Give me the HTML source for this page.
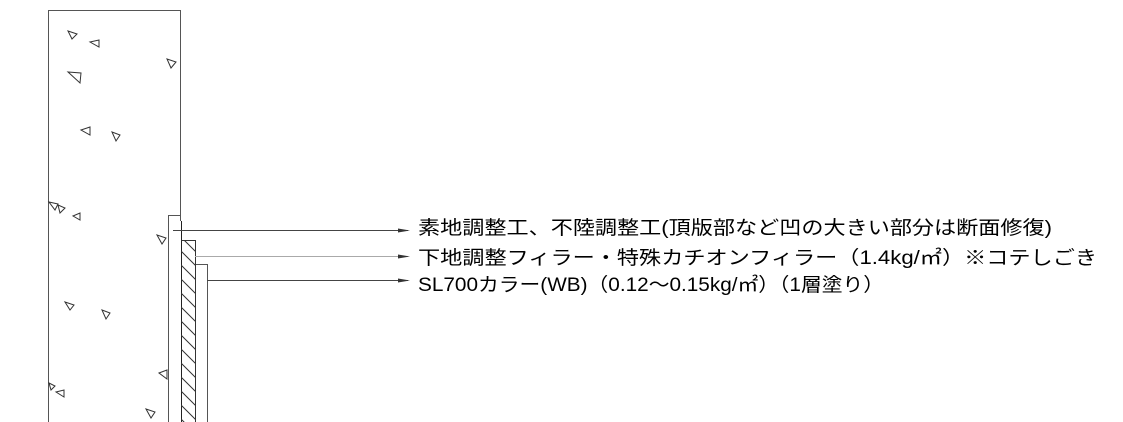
<!DOCTYPE html>
<html><head><meta charset="utf-8"><style>
html,body{margin:0;padding:0;background:#fff;}
svg{display:block;}
text{font-family:"Liberation Sans","Noto Sans CJK JP",sans-serif;font-size:19px;fill:#000;}
</style></head><body>
<svg width="1123" height="422" viewBox="0 0 1123 422" xmlns="http://www.w3.org/2000/svg">
<defs>
<pattern id="h" patternUnits="userSpaceOnUse" width="14" height="14">
<path d="M0,0 L14,14 M-7,7 L7,21 M7,-7 L21,7" stroke="#333" stroke-width="1"/>
</pattern>
<clipPath id="c"><rect x="181" y="240" width="14" height="182"/></clipPath>
</defs>
<g fill="none" stroke="#555" stroke-width="1">
<path d="M48.5,422 V10.5 H180.5 V221"/>
<path d="M168.5,422 V215.5 H181"/>
<path d="M195.5,264.5 H207.5 V422"/>
</g>
<line x1="181.5" y1="221" x2="181.5" y2="422" stroke="#222"/>
<rect x="181" y="240" width="14" height="182" fill="url(#h)" clip-path="url(#c)"/>
<path d="M181.5,240.5 H195.5 V422" fill="none" stroke="#333"/>
<line x1="173" y1="230.5" x2="408" y2="230.5" stroke="#444"/>
<line x1="195" y1="256.5" x2="408" y2="256.5" stroke="#aaa"/>
<line x1="207" y1="280.5" x2="408" y2="280.5" stroke="#444"/>
<path d="M398,228.5 L410,230.5 L398,232.5 Z" fill="#333"/>
<path d="M398,254.5 L410,256.5 L398,258.5 Z" fill="#333"/>
<path d="M398,278.5 L410,280.5 L398,282.5 Z" fill="#333"/>
<g fill="none" stroke="#333" stroke-width="1">
<path d="M68,31 L77,34 L72,39 Z"/>
<path d="M90,42 L99,40 L99,47 Z"/>
<path d="M167,59 L176,62 L171,68 Z"/>
<path d="M68,72 L81,73 L80,83 Z"/>
<path d="M81,130 L90,127 L90,135 Z"/>
<path d="M112,132 L120,135 L116,141 Z"/>
<path d="M49,202 L58,204 L55,210 Z"/>
<path d="M58,205 L65,208 L60,213 Z"/>
<path d="M73,216 L80,213 L80,220 Z"/>
<path d="M157,235 L166,238 L162,244 Z"/>
<path d="M65,302 L74,305 L70,310 Z"/>
<path d="M102,310 L110,313 L106,319 Z"/>
<path d="M159,373 L167,370 L167,379 Z"/>
<path d="M49,383 L55,386 L51,390 Z"/>
<path d="M56,392 L64,390 L64,397 Z"/>
<path d="M146,409 L155,412 L151,418 Z"/>
</g>
<text x="418" y="234" textLength="634" lengthAdjust="spacingAndGlyphs">素地調整工、不陸調整工(頂版部など凹の大きい部分は断面修復)</text>
<text x="418" y="264" textLength="679" lengthAdjust="spacingAndGlyphs">下地調整フィラー・特殊カチオンフィラー（1.4kg/㎡）※コテしごき</text>
<text x="418" y="291" textLength="466" lengthAdjust="spacingAndGlyphs">SL700カラー(WB)（0.12～0.15kg/㎡）（1層塗り）</text>
</svg>
</body></html>
